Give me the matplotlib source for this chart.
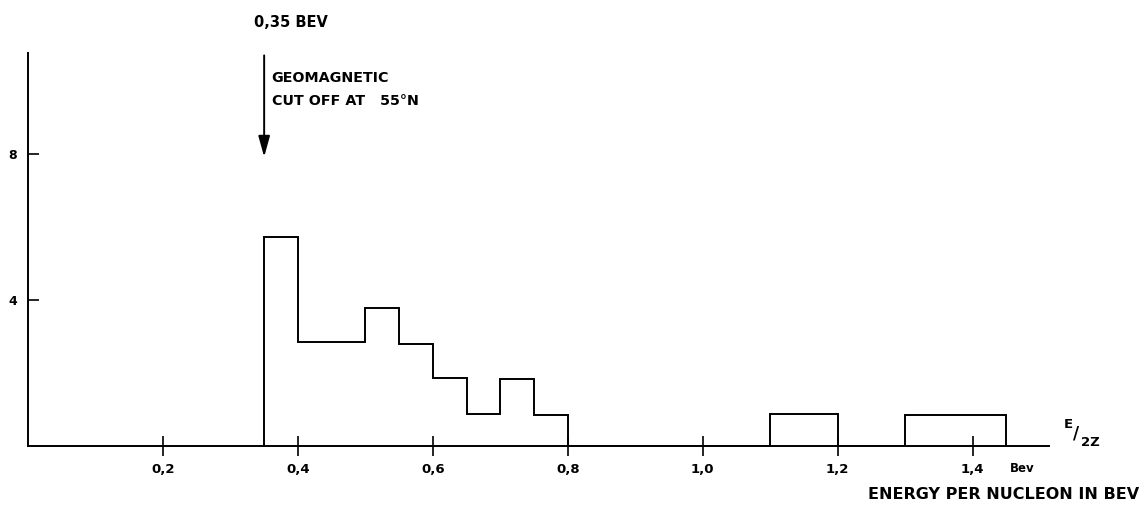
import matplotlib.pyplot as plt

# bin edges (BeV per nucleon) and counts
bin_edges = [0.35, 0.40, 0.45, 0.50, 0.55, 0.60, 0.65, 0.70, 0.75, 0.80, 1.10, 1.20, 1.30, 1.45]
counts = [5.73, 2.85, 2.85, 3.78, 2.79, 1.86, 0.88, 1.84, 0.85, 0, 0.88, 0, 0.85]

x_ticks = [0.2, 0.4, 0.6, 0.8, 1.0, 1.2, 1.4]
x_tick_labels = ["0,2", "0,4", "0,6", "0,8", "1,0", "1,2", "1,4"]
y_ticks = [4, 8]

cutoff = 0.35

fig = plt.figure(figsize=(11.42, 5.08), dpi=100)
ax = fig.add_axes([0.0245, 0.122, 0.894, 0.774])

ax.stairs(counts, bin_edges, baseline=0, color="black", linewidth=1.4)

ax.set_xlim(0, 1.513)
ax.set_ylim(0, 10.77)

for s in ["top", "right"]:
    ax.spines[s].set_visible(False)
for s in ["left", "bottom"]:
    ax.spines[s].set_linewidth(1.4)

ax.set_xticks(x_ticks)
ax.set_xticklabels(x_tick_labels, fontsize=9.5, fontweight="bold")
ax.set_yticks(y_ticks)
ax.set_yticklabels([str(v) for v in y_ticks], fontsize=9, fontweight="bold")
ax.tick_params(axis="x", direction="inout", length=14, width=1.2, pad=5)
ax.tick_params(axis="y", direction="in", length=8, width=1.2, pad=8)

# geomagnetic cut-off arrow
ax.annotate("", xy=(cutoff, 7.92), xytext=(cutoff, 10.7),
            arrowprops=dict(arrowstyle="-|>,head_length=0.9,head_width=0.25",
                            color="black", lw=1.4,
                            mutation_scale=14, shrinkA=0, shrinkB=0),
            annotation_clip=False)
ax.text(cutoff + 0.04, 11.6, "0,35 BEV", fontsize=10.5, fontweight="bold",
        ha="center", va="center", clip_on=False)
ax.text(cutoff + 0.011, 10.08, "GEOMAGNETIC", fontsize=10.3, fontweight="bold",
        ha="left", va="center")
ax.text(cutoff + 0.011, 9.45, "CUT OFF AT   55°N", fontsize=10.3, fontweight="bold",
        ha="left", va="center")

# axis annotations
ax.text(1.473, -0.62, "Bev", fontsize=8.5, fontweight="bold",
        ha="center", va="center", clip_on=False)
ax.text(1.541, 0.6, "E", fontsize=9.5, fontweight="bold",
        ha="center", va="center", clip_on=False)
ax.text(1.553, 0.33, "/", fontsize=12, fontweight="bold",
        ha="center", va="center", clip_on=False)
ax.text(1.575, 0.1, "2Z", fontsize=9.5, fontweight="bold",
        ha="center", va="center", clip_on=False)
ax.text(1.446, -1.32, "ENERGY PER NUCLEON IN BEV", fontsize=11.5, fontweight="bold",
        ha="center", va="center", clip_on=False)

fig.savefig("out.png", dpi=100)
